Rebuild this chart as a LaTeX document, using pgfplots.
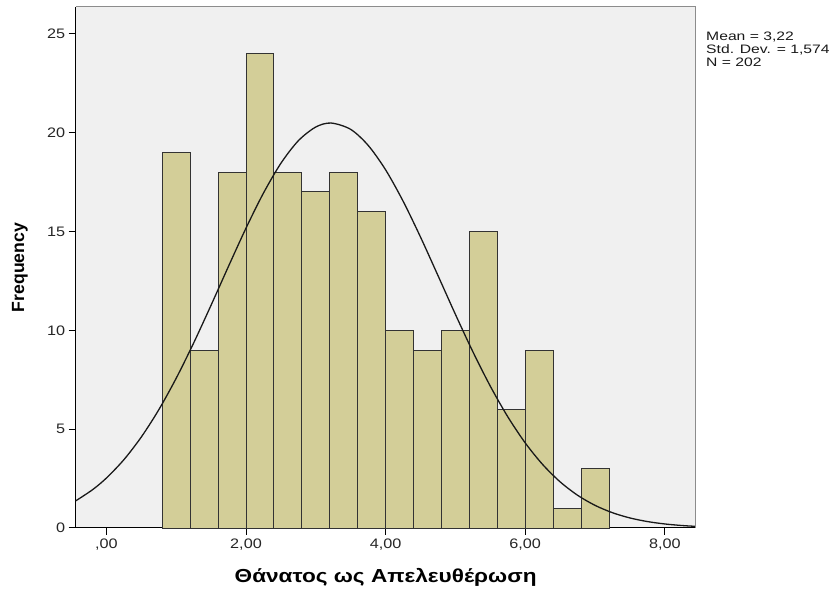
\documentclass[border=0pt]{standalone}
\usepackage{fontspec}
\setmainfont{Liberation Sans}
\newfontfamily\tickfont{Liberation Sans}[FakeStretch=1.18]
\newfontfamily\statfont{Liberation Sans}[FakeStretch=1.28]
\newfontfamily\xlabfont{Liberation Sans}[FakeStretch=1.2]
\usepackage{pgfplots}
\pgfplotsset{compat=1.18}
\definecolor{barfill}{RGB}{211,206,152}
\definecolor{plotbg}{RGB}{240,240,240}
\definecolor{framegray}{RGB}{140,140,140}

\begin{document}
\begin{tikzpicture}[x=1bp,y=1bp]
\useasboundingbox (0,0) rectangle (836,591);
\begin{axis}[
  name=hist,
  at={(75.7bp,63bp)}, anchor=south west,
  width=619.8bp, height=521bp, scale only axis,
  xmin=-0.44, xmax=8.44, ymin=0, ymax=26.35,
  axis background/.style={fill=plotbg},
  axis x line*=bottom, axis y line*=left,
  axis line style={black, line width=1bp},
  xtick={0,2,4,6,8},
  xticklabels={{,00},{2,00},{4,00},{6,00},{8,00}},
  ytick={0,5,10,15,20,25},
  yticklabels={0,5,10,15,20,25},
  tick align=outside, major tick length=7bp, minor tick num=0,
  tick style={black, line width=1bp},
  ticklabel style={font=\tickfont\fontsize{13.8}{13.8}\selectfont, text=black!85},
  every axis x label/.style={at={(axis description cs:0.5,0)}, yshift=-49bp, anchor=center},
  every axis y label/.style={at={(axis description cs:0,0.5)}, xshift=-55.7bp, anchor=center, rotate=90},
  xlabel={\xlabfont\bfseries\fontsize{18.9}{18.9}\selectfont Θάνατος ως Απελευθέρωση},
  ylabel={\bfseries\fontsize{17.7}{17.7}\selectfont Frequency},
  clip=false,
  after end axis/.code={
    \draw[framegray, line width=1bp] (rel axis cs:0,1) -- (rel axis cs:1,1) -- (rel axis cs:1,0);
  },
]
% histogram counts, bin width 0.4
\addplot[ybar interval, fill=barfill, draw=black!80, line width=0.9bp] coordinates {
  (0.8,19) (1.2,9) (1.6,18) (2.0,24) (2.4,18) (2.8,17) (3.2,18) (3.6,16)
  (4.0,10) (4.4,9) (4.8,10) (5.2,15) (5.6,6) (6.0,9) (6.4,1) (6.8,3) (7.2,3)
};
% fitted normal curve (mean 3.22, sd 1.574, N 202)
\addplot[black!90, line width=1.3bp, smooth] coordinates {
  (-0.44,1.372) (-0.2,1.933) (0,2.527) (0.25,3.453) (0.5,4.602) (0.75,5.978)
  (1.0,7.575) (1.25,9.358) (1.5,11.273) (1.75,13.241) (2.0,15.166) (2.25,16.938)
  (2.5,18.446) (2.75,19.587) (3.0,20.281) (3.22,20.48) (3.5,20.159) (3.75,19.351)
  (4.0,18.114) (4.25,16.533) (4.5,14.714) (4.75,12.769) (5.0,10.805) (5.25,8.916)
  (5.5,7.173) (5.75,5.627) (6.0,4.305) (6.25,3.211) (6.5,2.335) (6.75,1.656)
  (7.0,1.146) (7.25,0.773) (7.5,0.508) (7.75,0.326) (8.0,0.204) (8.25,0.124)
  (8.44,0.084)
};
\end{axis}
\node[anchor=north west, inner sep=0pt, align=left, text=black!90,
      font=\statfont\fontsize{12.3}{12.8}\selectfont]
  at (706bp,559bp) {Mean = 3,22\\Std. Dev. = 1,574\\N = 202};
\end{tikzpicture}
\end{document}
